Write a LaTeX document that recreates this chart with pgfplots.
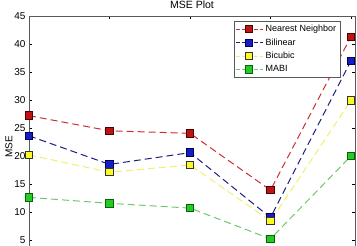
\documentclass[border=0pt]{standalone}
\usepackage{fontspec}
\setmainfont{Liberation Sans}
\usepackage{pgfplots}
\pgfplotsset{compat=1.18}
\definecolor{nnline}{RGB}{200,50,50}
\definecolor{nnfill}{RGB}{190,20,20}
\definecolor{blline}{RGB}{30,30,130}
\definecolor{blfill}{RGB}{20,30,200}
\definecolor{bcline}{RGB}{240,240,110}
\definecolor{bcfill}{RGB}{250,250,40}
\definecolor{maline}{RGB}{110,200,110}
\definecolor{mafill}{RGB}{40,200,40}
\begin{document}
\begin{tikzpicture}
\begin{axis}[
  at={(29pt,-22pt)}, anchor=south west,
  scale only axis, width=326pt, height=252pt,
  xmin=1, xmax=5.05, ymin=0, ymax=45,
  xtick={1,2,3,4,5}, xticklabels={},
  ytick={5,10,...,45},
  tick align=inside, major tick length=3pt,
  tick style={black, line width=0.5pt},
  axis line style={gray!70!black, line width=0.9pt},
  ticklabel style={font=\fontsize{10}{11}\selectfont},
  /pgf/number format/assume math mode=true,
  ylabel={MSE}, ylabel style={font=\fontsize{10}{11}\selectfont, at={(ticklabel cs:0.48)}, yshift=-5pt},
  legend style={at={(rel axis cs:0.955,0.98)}, anchor=north east,
    font=\fontsize{9}{10}\selectfont, row sep=1.5pt, inner sep=2pt, draw=gray!70!black},
  legend cell align=left,
  legend image code/.code={
    \draw[dash pattern=on 4pt off 2pt, line width=0.8pt] (0.15cm,0cm) -- (1.1cm,0cm);
    \draw[solid] plot coordinates {(0.6cm,0cm)};
  },
  every axis plot/.append style={dash pattern=on 7pt off 4pt, line width=1pt},
  clip=false,
]
\addplot[nnline, mark=square*, mark size=3.7pt, mark options={solid, fill=nnfill, draw=black!70!red}]
 coordinates {(1,27.2) (2,24.5) (3,24.05) (4,13.9) (5,41.3)};
\addlegendentry{Nearest Neighbor}
\addplot[blline, mark=square*, mark size=3.7pt, mark options={solid, fill=blfill, draw=black!70!blue}]
 coordinates {(1,23.6) (2,18.5) (3,20.6) (4,9.0) (5,37.0)};
\addlegendentry{Bilinear}
\addplot[bcline, mark=square*, mark size=3.7pt, mark options={solid, fill=bcfill, draw=black!80}]
 coordinates {(1,20.2) (2,17.1) (3,18.4) (4,8.4) (5,29.9)};
\addlegendentry{Bicubic}
\addplot[maline, mark=square*, mark size=3.7pt, mark options={solid, fill=mafill, draw=black!60!green}]
 coordinates {(1,12.6) (2,11.55) (3,10.7) (4,5.2) (5,20.0)};
\addlegendentry{MABI}
\node[font=\fontsize{10.5}{11}\selectfont, anchor=base] at (rel axis cs:0.5,1) [yshift=7pt] {MSE Plot};
\end{axis}
\pgfresetboundingbox
\useasboundingbox (0,0) rectangle (357pt,246pt);
\end{tikzpicture}
\end{document}
